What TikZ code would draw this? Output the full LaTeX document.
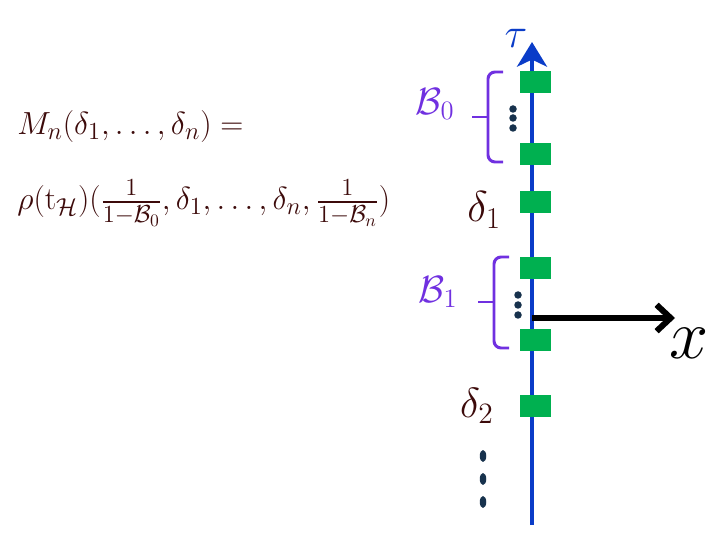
\RequirePackage{fix-cm}
\documentclass[tikz,border=0pt]{standalone}
\usepackage{amsmath,amssymb}
\usetikzlibrary{arrows.meta,positioning}
\definecolor{axisblue}{HTML}{0A3CC8}
\definecolor{sqgreen}{HTML}{00B050}
\definecolor{bpurple}{HTML}{7030E0}
\definecolor{dotnavy}{HTML}{17324D}
\definecolor{maroon}{HTML}{3C0A0A}
\DeclareMathSizes{18.2}{18.2}{14}{10}
\newcommand{\smfr}[2]{\frac{#1\rule[-2.5pt]{0pt}{0pt}}{\rule{0pt}{10.5pt}#2}}

\begin{document}
\begin{tikzpicture}[x=0.02cm,y=-0.02cm,
  sq/.style={fill=sqgreen,inner sep=0pt,minimum width=0.62cm,minimum height=0.44cm},
  lab/.style={text=maroon,inner sep=0pt},
  bl/.style={text=bpurple,inner sep=0pt,font=\fontsize{21.6}{24}\selectfont},
  br/.style={draw=bpurple,line width=1.7pt,rounded corners=4pt},
  dt/.style={fill=dotnavy}
]
\useasboundingbox (0,0) rectangle (720,540);
% time axis
\coordinate (bot) at (532,525);
\coordinate (top) at (532,42);
\draw[axisblue,line width=2.8pt,-{Stealth[length=14pt,width=17pt,inset=4pt]}] (bot)--(top);
\node[text=axisblue,inner sep=0pt,font=\fontsize{24}{26}\selectfont] (tau) at (516,38) {$\tau$};
% insertions
\foreach \n/\y in {s1/82,s2/154,s3/202,s4/268,s5/340,s6/406}
  \node[sq] (\n) at (535,\y) {};
% space arrow
\coordinate (orig) at (532,318);
\coordinate (xend) at (675,318);
\draw[line width=3.4pt,-{Straight Barb[length=8pt,width=15pt]}] (orig)--(xend);
\node[inner sep=0pt,font=\fontsize{40}{44}\selectfont] (xlab) at (689,343) {$x$};
% braces
\draw[br] (503,72)--(488,72)--(488,162)--(503,162);
\draw[br] (472,117)--(488,117);
\draw[br] (509,257)--(494,257)--(494,348)--(509,348);
\draw[br] (478,302)--(494,302);
\node[bl] (B0) at (435,104) {$\mathcal{B}_0$};
\node[bl] (B1) at (438,292) {$\mathcal{B}_1$};
% small dots
\foreach \y in {109,118,128} \fill[dt] (513,\y) circle[radius=0.075cm];
\foreach \y in {295,305,315} \fill[dt] (518,\y) circle[radius=0.075cm];
\foreach \y in {456,479,502} \fill[dt] (483,\y) ellipse[x radius=0.065cm,y radius=0.12cm];
% labels
\node[lab,font=\fontsize{24.6}{28}\selectfont] (d1) at (484,210) {$\delta_1$};
\node[lab,font=\fontsize{24}{28}\selectfont] (d2) at (477,406) {$\delta_2$};
\node[lab,anchor=base west,font=\fontsize{18.2}{20}\selectfont] (Mn) at (17,135)
  {$M_n(\delta_1,\ldots,\delta_n) =$};
\node[lab,anchor=base west,font=\fontsize{18.2}{20}\selectfont] (rho) at (17,210)
  {$\rho(\mathrm{t}_{\mathcal{H}})(\smfr{1}{1-\mathcal{B}_0},\delta_1,\ldots,\delta_n,\smfr{1}{1-\mathcal{B}_n})$};
\end{tikzpicture}
\end{document}
